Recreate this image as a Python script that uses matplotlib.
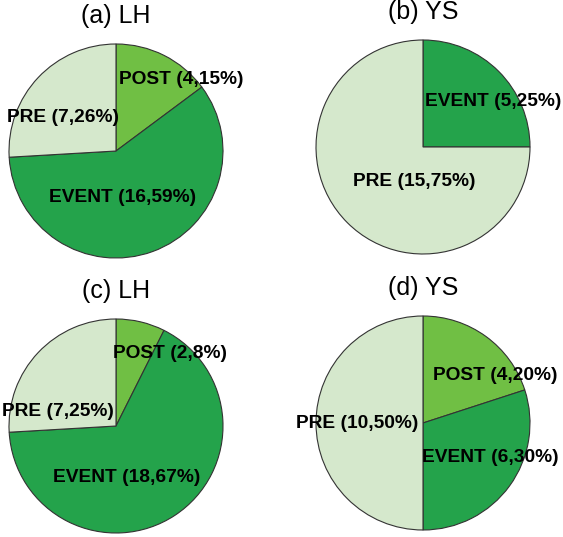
import matplotlib
matplotlib.use("Agg")
import matplotlib.pyplot as plt

plt.rcParams['font.family'] = ['Liberation Sans', 'DejaVu Sans']

# Event counts per phase for each panel
titles = ["(a) LH", "(b) YS", "(c) LH", "(d) YS"]
phases_a = ["POST", "EVENT", "PRE"]
counts_a = [4, 16, 7]
pcts_a = [15, 59, 26]
phases_b = ["EVENT", "PRE"]
counts_b = [5, 15]
pcts_b = [25, 75]
phases_c = ["POST", "EVENT", "PRE"]
counts_c = [2, 18, 7]
pcts_c = [8, 67, 25]
phases_d = ["POST", "EVENT", "PRE"]
counts_d = [4, 6, 10]
pcts_d = [20, 30, 50]

colors = {"POST": "#70bf44", "EVENT": "#24a34b", "PRE": "#d5e8cc"}

W, H = 563, 537
fig = plt.figure(figsize=(W / 100, H / 100), dpi=100)

# pie centre / radius in pixels, and label centres in pixels
layout = [
    dict(c=(116, 151), r=107, lab=[(181, 80), (123, 197), (63, 118)]),
    dict(c=(423, 147), r=107, lab=[(493, 101), (414, 181)]),
    dict(c=(116, 426), r=107, lab=[(170, 354), (127, 478), (58, 412)]),
    dict(c=(423, 423), r=107, lab=[(495, 376), (490, 458), (357, 424)]),
]
panels = [
    (phases_a, counts_a, pcts_a),
    (phases_b, counts_b, pcts_b),
    (phases_c, counts_c, pcts_c),
    (phases_d, counts_d, pcts_d),
]

for title, (phases, counts, pcts), lay in zip(titles, panels, layout):
    cx, cy = lay["c"]
    r = lay["r"]
    ax = fig.add_axes([(cx - r) / W, 1 - (cy + r) / H, 2 * r / W, 2 * r / H])
    ax.pie(counts, colors=[colors[p] for p in phases], startangle=90,
           counterclock=False, radius=1,
           wedgeprops=dict(edgecolor="#333333", linewidth=0.8))
    ax.set_xlim(-1, 1)
    ax.set_ylim(-1, 1)
    ax.set_aspect("equal")
    ax.axis("off")
    ax.text(0, 1 + 28 / r, title, ha="center", va="center", fontsize=18,
            clip_on=False)
    for p, n, pc, (lx, ly) in zip(phases, counts, pcts, lay["lab"]):
        ax.text((lx - cx) / r, (cy - ly) / r, f"{p} ({n},{pc}%)",
                ha="center", va="center", fontsize=13.8, fontweight="bold",
                clip_on=False)

fig.savefig("out.png", dpi=100)
